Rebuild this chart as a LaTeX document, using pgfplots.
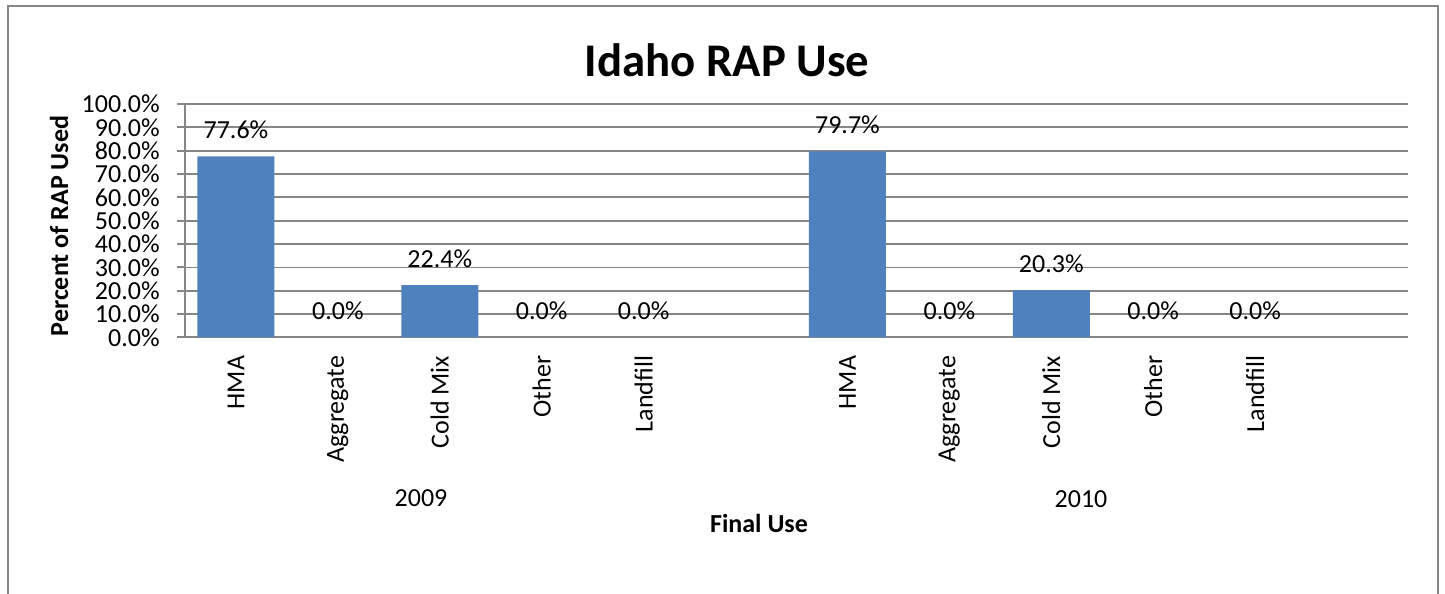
\documentclass[border=0pt]{standalone}
\usepackage{fontspec}
\setmainfont{Carlito}
\usepackage{pgfplots}
\pgfplotsset{compat=1.18}
\definecolor{barblue}{HTML}{4F81BD}
\definecolor{gridgray}{RGB}{134,134,134}
\newcommand\tk{\fontsize{13}{15.6}\selectfont}
\begin{document}
\begin{tikzpicture}
\useasboundingbox (0,0) rectangle (722.5pt,297pt);
% chart frame (bottom edge is cut off in the reference)
\draw[gridgray, line width=1pt] (4pt,0) -- (4pt,294pt) -- (719pt,294pt) -- (719pt,0);
\begin{axis}[
    at={(92.5pt,128.25pt)}, anchor=south west,
    scale only axis, width=611.5pt, height=116.75pt,
    ybar, bar width=38.5pt,
    xmin=-0.5, xmax=11.5, enlarge x limits=false,
    ymin=0, ymax=100,
    axis x line*=bottom, axis y line*=left,
    axis line style={gridgray, line width=1pt},
    ymajorgrids, grid style={gridgray, line width=0.9pt},
    ytick={0,10,...,100},
    yticklabels={0.0\%,10.0\%,20.0\%,30.0\%,40.0\%,50.0\%,60.0\%,70.0\%,80.0\%,90.0\%,100.0\%},
    yticklabel style={font=\tk, anchor=east, inner sep=0pt},
    yticklabel shift=8.5pt,
    ytick style={gridgray, line width=1pt},
    tick align=outside, major tick length=4pt,
    xtick={0,1,2,3,4,6,7,8,9,10},
    xticklabels={HMA,Aggregate,Cold Mix,Other,Landfill,HMA,Aggregate,Cold Mix,Other,Landfill},
    xticklabel style={font=\tk, rotate=90, anchor=east, inner sep=0pt},
    xticklabel shift=5pt,
    xtick style={draw=none},
    point meta=explicit symbolic,
    nodes near coords,
    nodes near coords style={font=\tk, anchor=base, inner sep=0pt, yshift=9pt, text=black},
    clip=false,
]
\addplot[fill=barblue, draw=none] coordinates {
    (0,77.6) [77.6\%]
    (1,0)    [0.0\%]
    (2,22.4) [22.4\%]
    (3,0)    [0.0\%]
    (4,0)    [0.0\%]
    (6,79.7) [79.7\%]
    (7,0)    [0.0\%]
    (8,20.3) [20.3\%]
    (9,0)    [0.0\%]
    (10,0)   [0.0\%]
};
\end{axis}
\node[font=\fontsize{23.4}{28}\selectfont\bfseries] at (363.5pt,267pt) {Idaho RAP Use};
\node[font=\tk\bfseries, rotate=90] at (29.5pt,184pt) {Percent of RAP Used};
\node[font=\tk, anchor=base] at (210.5pt,43.5pt) {2009};
\node[font=\tk, anchor=base] at (540.5pt,43pt) {2010};
\node[font=\tk\bfseries, anchor=base] at (379.5pt,30.5pt) {Final Use};
\end{tikzpicture}
\end{document}
